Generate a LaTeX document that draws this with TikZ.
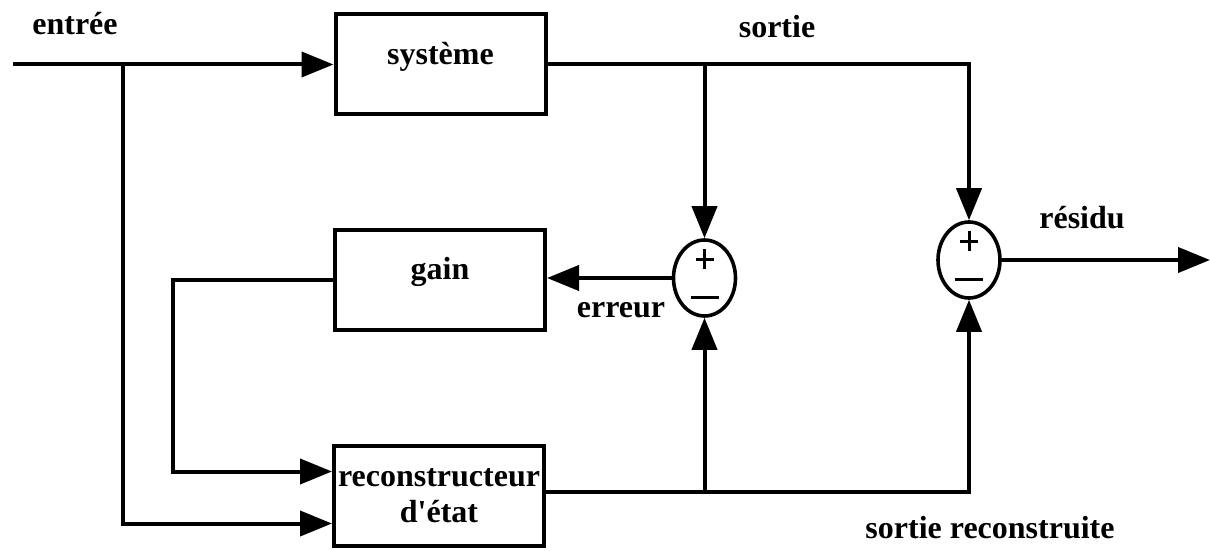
\documentclass[tikz,border=0pt]{standalone}
\usepackage{fontspec}
\setmainfont{Liberation Serif}
\usetikzlibrary{arrows.meta,shapes.geometric,calc}
\tikzset{
  blk/.style={draw, line width=2pt, minimum width=105pt, minimum height=50pt, inner sep=0pt, align=center, font=\fontsize{16}{18}\selectfont\bfseries},
  midline/.style={text height=11pt, text depth=11pt},
  sum/.style={draw, ellipse, line width=1.8pt, minimum width=31pt, minimum height=38pt, inner sep=0pt},
  wire/.style={line width=2pt},
  arrow/.style={wire, -{Triangle[length=16pt, width=12.5pt]}},
  sign/.style={line width=1.5pt},
  lbl/.style={anchor=base, inner sep=0pt, font=\fontsize{16}{18}\selectfont\bfseries}
}

\begin{document}
\begin{tikzpicture}[x=0.5pt, y=-0.5pt]
  \useasboundingbox (0,0) rectangle (1210,551);
  \node[blk, midline] (sys) at (440.5,64.5) {système};
  \node[blk, midline] (gain) at (440,279.5) {gain};
  \node[blk] (rec) at (439,495.5) {reconstructeur\\d\textquotesingle état};
  \node[sum] (s1) at (704.5,278) {};
  \node[sum] (s2) at (969,260) {};
  % + on top, - below in each comparator
  \foreach \s in {s1,s2} {
    \draw[sign] ([yshift=9.5pt]\s.center) +(-4.5pt,0) -- +(4.5pt,0) +(0,-5pt) -- +(0,5pt);
    \draw[sign] ([yshift=-9.5pt]\s.center) +(-7pt,0) -- +(7pt,0);
  }
  \node[lbl] (in-t) at (75,35) {entrée};
  \node[lbl] (out-t) at (777,38) {sortie};
  \node[lbl] (res-t) at (1082,228) {résidu};
  \node[lbl] (err-t) at (621,317) {erreur};
  \node[lbl] (rec-t) at (990,538) {sortie reconstruite};
  \coordinate (in) at (13,64.5);
  \coordinate (out) at (1210,260);
  \coordinate (ja) at (123,64.5);
  \coordinate (jb) at (173,0);
  \coordinate (rout) at ([yshift=2pt]rec.east);
  \draw[arrow] (in) -- (sys.west);
  \draw[arrow] (ja) |- ([yshift=-14pt]rec.west);
  \draw[arrow] (gain.west) -- (gain.west -| jb) |- ([yshift=12pt]rec.west);
  \draw[arrow] (sys.east) -| (s2.north);
  \draw[arrow] (sys.east -| s1) -- (s1.north);
  \draw[arrow] (s1.west) -- (s1.west -| gain.east);
  \draw[arrow] (rout) -| (s2.south);
  \draw[arrow] (rout -| s1) -- (s1.south);
  \draw[arrow] (s2.east) -- (out);
\end{tikzpicture}
\end{document}
